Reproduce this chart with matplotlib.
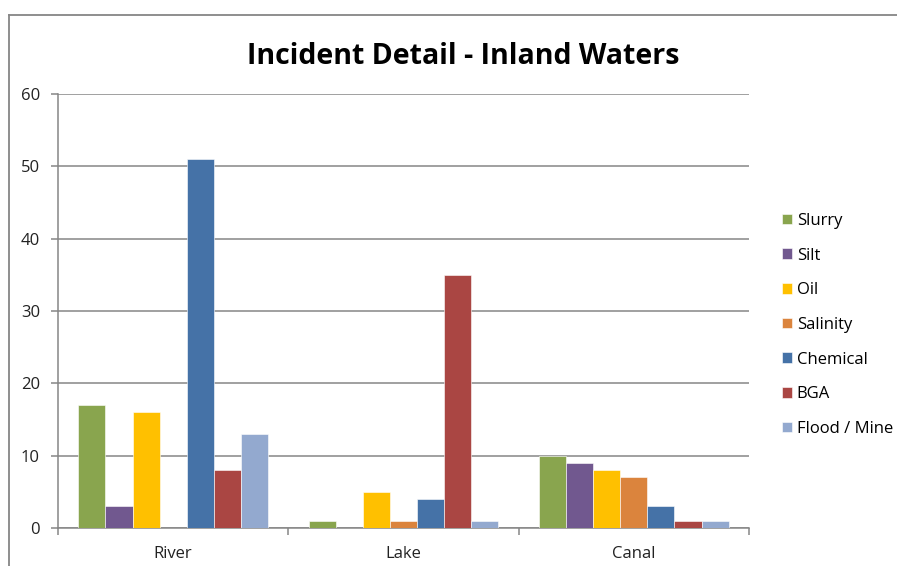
import matplotlib
matplotlib.use("Agg")
import matplotlib.pyplot as plt
import numpy as np
from matplotlib.lines import Line2D

categories = ["River", "Lake", "Canal"]
series_names = ["Slurry", "Silt", "Oil", "Salinity", "Chemical", "BGA", "Flood / Mine"]
slurry = [17, 1, 10]
silt = [3, 0, 9]
oil = [16, 5, 8]
salinity = [0, 1, 7]
chemical = [51, 4, 3]
bga = [8, 35, 1]
flood_mine = [13, 1, 1]
colors = ["#89A54E", "#71588F", "#FFC000", "#DB843D", "#4572A7", "#AA4643", "#93A9CF"]
title = "Incident Detail - Inland Waters"

values = [slurry, silt, oil, salinity, chemical, bga, flood_mine]

plt.rcParams['font.family'] = ['Open Sans', 'DejaVu Sans']
fig = plt.figure(figsize=(8.97, 5.66), dpi=100)
W, H = 897, 566
ax = fig.add_axes([58 / W, 1 - 528 / H, (749 - 58) / W, (528 - 94) / H])

n = len(series_names)
bw = 1.0 / (n + 1.5)
x = np.arange(len(categories))
for i, (name, vals, c) in enumerate(zip(series_names, values, colors)):
    offs = -0.5 + 0.75 * bw + (i + 0.5) * bw
    ax.bar(x + offs, vals, width=bw, color=c, label=name, zorder=3,
           edgecolor='white', linewidth=0.4)

ax.set_xlim(-0.5, len(categories) - 0.5)
ax.set_ylim(0, 60)
ax.set_yticks(range(0, 61, 10))
ax.yaxis.grid(True, color='#868686', linewidth=1.1, zorder=0)
ax.set_axisbelow(True)
for s in ['top', 'right']:
    ax.spines[s].set_visible(False)
for s in ['left', 'bottom']:
    ax.spines[s].set_color('#868686')
    ax.spines[s].set_linewidth(1.1)
ax.set_xticks(np.arange(-0.5, len(categories), 1.0))
ax.set_xticklabels([])
ax.set_xticks(x, minor=True)
ax.set_xticklabels(categories, minor=True)
ax.tick_params(axis='x', which='major', length=5, color='#868686', width=1.1)
ax.tick_params(axis='x', which='minor', length=0, pad=13, labelsize=12, labelcolor='#222222')
ax.tick_params(axis='y', length=5, color='#868686', width=1.1, labelsize=12, pad=8, labelcolor='#222222')

fig.text(463 / W, 1 - 57 / H, title, ha='center', va='center', fontsize=20.5, fontweight='bold')

ax.legend(loc='center left', bbox_to_anchor=(775 / W, 1 - 325 / H), bbox_transform=fig.transFigure,
          frameon=False, fontsize=12, handlelength=0.6, handleheight=0.6, handletextpad=0.3,
          labelspacing=1.12, borderaxespad=0)

fig.add_artist(Line2D([9 / W, 9 / W], [0, 1 - 15 / H], color='#868686', linewidth=1.3, transform=fig.transFigure))
fig.add_artist(Line2D([9 / W, 1], [1 - 15 / H, 1 - 15 / H], color='#868686', linewidth=1.3, transform=fig.transFigure))

fig.savefig("out.png", dpi=100)
